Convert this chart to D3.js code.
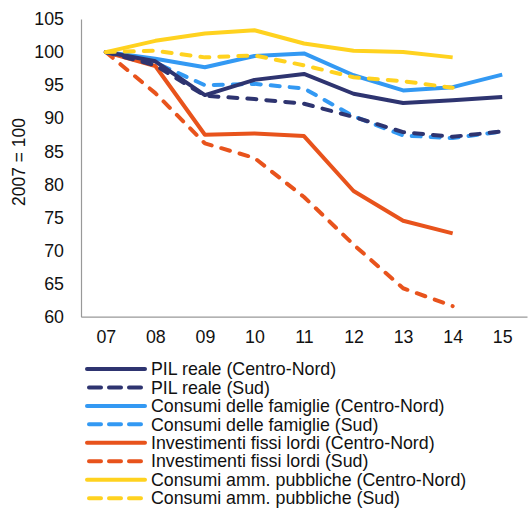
<!DOCTYPE html>
<html><head><meta charset="utf-8">
<script src="https://cdn.jsdelivr.net/npm/d3@7"></script>
<style>
html,body{margin:0;padding:0;background:#fff;}
svg{display:block;font-family:"Liberation Sans",Arial,sans-serif;}
</style></head>
<body><svg id="c" width="531" height="508"></svg>
<script>
const years = ["07","08","09","10","11","12","13","14","15"];
const yTicks = [60,65,70,75,80,85,90,95,100,105];
const pilCN   = [100, 98.6, 93.5, 95.8, 96.7, 93.7, 92.3, 92.7, 93.2];
const pilSud  = [100, 98.0, 93.4, 92.9, 92.2, 90.2, 87.9, 87.2, 88.0];
const famCN   = [100, 99.0, 97.7, 99.4, 99.8, 96.5, 94.2, 94.7, 96.6];
const famSud  = [100, 98.4, 95.0, 95.2, 94.5, 90.3, 87.4, 87.0, 88.0];
const invCN   = [100, 97.9, 87.5, 87.7, 87.3, 79.0, 74.5, 72.6];
const invSud  = [100, 93.8, 86.2, 84.0, 78.1, 70.9, 64.3, 61.6];
const apCN    = [100, 101.7, 102.8, 103.3, 101.3, 100.2, 100.0, 99.2];
const apSud   = [100, 100.2, 99.2, 99.5, 98.0, 96.2, 95.6, 94.6];
const seriesNames = [
  "PIL reale (Centro-Nord)","PIL reale (Sud)",
  "Consumi delle famiglie (Centro-Nord)","Consumi delle famiglie (Sud)",
  "Investimenti fissi lordi (Centro-Nord)","Investimenti fissi lordi (Sud)",
  "Consumi amm. pubbliche (Centro-Nord)","Consumi amm. pubbliche (Sud)"];
const seriesValues = [pilCN,pilSud,famCN,famSud,invCN,invSud,apCN,apSud];
const colors = ["#2e3470","#2e3470","#3399f3","#3399f3","#e8531c","#e8531c","#ffd21f","#ffd21f"];
const dashed = [false,true,false,true,false,true,false,true];

const svg = d3.select("#c");
const x = d3.scalePoint().domain(years).range([81,527]).padding(0.5);
const y = d3.scaleLinear().domain([60,105]).range([316.7,19]);

const yAx = svg.append("g").attr("transform","translate(81,0)")
  .call(d3.axisLeft(y).tickValues(yTicks).tickSize(0).tickPadding(17));
yAx.select(".domain").attr("stroke","#999").attr("stroke-width",1.2);
yAx.selectAll("text").attr("font-size",17.8).attr("fill","#111").attr("font-family","Liberation Sans, Arial, sans-serif");

const xAx = svg.append("g").attr("transform","translate(0,316.7)")
  .call(d3.axisBottom(x).tickSize(0).tickPadding(14));
xAx.select(".domain").attr("stroke","#999").attr("stroke-width",1.2);
xAx.selectAll("text").attr("font-size",17.8).attr("fill","#111").attr("font-family","Liberation Sans, Arial, sans-serif");

svg.append("text").attr("transform","translate(25,162) rotate(-90)")
  .attr("text-anchor","middle").attr("font-size",17.5).attr("fill","#111")
  .text("2007 = 100");

const line = d3.line().x((d,i)=>x(years[i])).y(d=>y(d));
const order = [5,4,3,1,2,0,7,6];
order.forEach(k=>{
  svg.append("path").datum(seriesValues[k])
    .attr("d",line).attr("fill","none")
    .attr("stroke",colors[k]).attr("stroke-width",4)
    .attr("stroke-linejoin","round")
    .attr("stroke-linecap", dashed[k] ? "round" : "butt")
    .attr("stroke-dasharray", dashed[k] ? "9,10" : null);
});

const lg = svg.append("g");
seriesNames.forEach((n,i)=>{
  const cy = 369 + i*18.45;
  lg.append("line").attr("x1",dashed[i]?89:87).attr("x2",145).attr("y1",cy).attr("y2",cy)
    .attr("stroke",colors[i]).attr("stroke-width",4)
    .attr("stroke-linecap","round")
    .attr("stroke-dasharray",dashed[i]?"12,8":null);
  lg.append("text").attr("x",151).attr("y",cy).attr("dy","0.35em")
    .attr("font-size",17.8).attr("fill","#111").text(n);
});
</script></body></html>
